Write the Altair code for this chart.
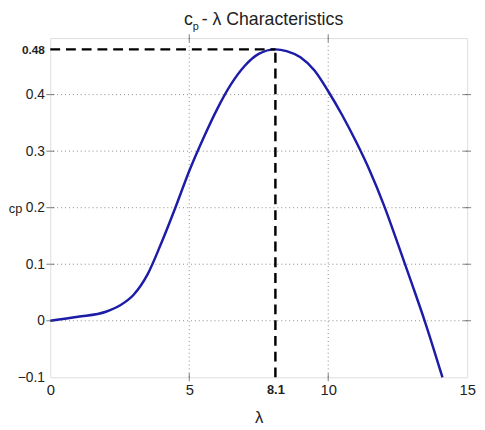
import altair as alt
import pandas as pd

# curve
lam = [0, 1.0, 2.0, 2.5, 3.0, 3.5, 4.0, 4.5, 5.0, 5.5, 6.0, 6.5, 7.0, 7.5, 8.1, 8.5, 9.0, 9.5, 10.0,
       10.5, 11.0, 11.5, 12.0, 12.5, 13.0, 13.47, 14.11]
cp = [0, 0.007, 0.016, 0.027, 0.046, 0.082, 0.138, 0.2, 0.265, 0.322, 0.374, 0.418, 0.451, 0.472, 0.48, 0.477,
      0.466, 0.443, 0.406, 0.364, 0.317, 0.265, 0.205, 0.137, 0.067, 0.0, -0.1]

x_ticks = [0, 5, 8.1, 10, 15]
y_ticks = [-0.1, 0, 0.1, 0.2, 0.3, 0.4, 0.48]
x_grid = [5, 10]
y_grid = [0, 0.1, 0.2, 0.3, 0.4]
peak_lam = 8.1
peak_cp = 0.48

FONT = "Liberation Sans"
xs = alt.Scale(domain=[0, 15], nice=False)
ys = alt.Scale(domain=[-0.1, 0.5], nice=False)

curve_df = pd.DataFrame({"lam": lam, "cp": cp})

xaxis = alt.Axis(values=x_ticks, grid=False, tickSize=0, format="~g", labelFont=FONT,
                 labelFontSize=alt.expr("datum.value == 8.1 ? 13 : 15"),
                 labelFontWeight=alt.expr("datum.value == 8.1 ? 'bold' : 'normal'"), labelColor="#222", labelPadding=6,
                 title="λ", titleFont=FONT, titleFontSize=17, titleFontWeight="normal", titleColor="#222", titlePadding=12,
                 domain=False, labelFlush=False)
yaxis = alt.Axis(values=y_ticks, grid=False, tickSize=0, format="~g", labelFont=FONT,
                 labelFontSize=alt.expr("datum.value == 0.48 ? 12 : 14"),
                 labelFontWeight=alt.expr("datum.value == 0.48 ? 'bold' : 'normal'"), labelColor="#222", labelPadding=6,
                 title="cp", titleAngle=0, titleFont=FONT, titleFontSize=13, titleFontWeight="normal",
                 titleColor="#222", titleX=-29, titleY=173, titleAlign="right", titleBaseline="middle",
                 domain=False, labelFlush=False)

vgrid = alt.Chart(pd.DataFrame({"g": x_grid})).mark_rule(color="#888", strokeDash=[1, 3], strokeWidth=1).encode(
    x=alt.X("g:Q", scale=xs, axis=xaxis))
hgrid = alt.Chart(pd.DataFrame({"g": y_grid})).mark_rule(color="#888", strokeDash=[1, 3], strokeWidth=1).encode(
    y=alt.Y("g:Q", scale=ys, axis=yaxis))

hdash = alt.Chart(pd.DataFrame({"a": [0], "b": [peak_lam], "y": [peak_cp]})).mark_rule(
    color="black", strokeDash=[10, 6], strokeWidth=2.5).encode(
    x=alt.X("a:Q", scale=xs), x2="b:Q", y=alt.Y("y:Q", scale=ys))
vdash = alt.Chart(pd.DataFrame({"x": [peak_lam], "a": [-0.1], "b": [peak_cp]})).mark_rule(
    color="black", strokeDash=[10, 6], strokeWidth=2.5).encode(
    x=alt.X("x:Q", scale=xs), y=alt.Y("a:Q", scale=ys), y2="b:Q")

line = alt.Chart(curve_df).mark_line(color="#1c1ca8", strokeWidth=2.5, interpolate="monotone").encode(
    x=alt.X("lam:Q", scale=xs), y=alt.Y("cp:Q", scale=ys))

# small inward ticks on top/bottom/left/right (MATLAB box)
tx = [5, 10]
ty = [0, 0.1, 0.2, 0.3, 0.4]
tick_top = alt.Chart(pd.DataFrame({"t": tx})).mark_tick(orient="vertical", size=8, color="#444", thickness=1).encode(
    x=alt.X("t:Q", scale=xs), y=alt.value(0))
tick_bot = alt.Chart(pd.DataFrame({"t": tx})).mark_tick(orient="vertical", size=8, color="#444", thickness=1).encode(
    x=alt.X("t:Q", scale=xs), y=alt.value(345))
tick_left = alt.Chart(pd.DataFrame({"t": ty})).mark_tick(orient="horizontal", size=8, color="#444", thickness=1).encode(
    y=alt.Y("t:Q", scale=ys), x=alt.value(0))
tick_right = alt.Chart(pd.DataFrame({"t": ty})).mark_tick(orient="horizontal", size=8, color="#444", thickness=1).encode(
    y=alt.Y("t:Q", scale=ys), x=alt.value(424))

title_c = alt.Chart(pd.DataFrame({"t": ["c"]})).mark_text(font=FONT, fontSize=18, align="left", baseline="alphabetic", color="#222").encode(
    text="t:N", x=alt.value(136), y=alt.value(-13))
title_p = alt.Chart(pd.DataFrame({"t": ["p"]})).mark_text(font=FONT, fontSize=11, align="left", baseline="alphabetic", color="#222").encode(
    text="t:N", x=alt.value(145), y=alt.value(-8))
title_rest = alt.Chart(pd.DataFrame({"t": ["- λ Characteristics"]})).mark_text(font=FONT, fontSize=18, align="left", baseline="alphabetic", color="#222").encode(
    text="t:N", x=alt.value(154), y=alt.value(-13))

chart = alt.layer(vgrid, hgrid, line, hdash, vdash, tick_top, tick_bot, tick_left, tick_right,
                  title_c, title_p, title_rest).properties(
    width=424, height=345,
    autosize=alt.AutoSizeParams(type="none"),
    padding={"left": 43, "top": 27, "right": 10, "bottom": 50},
).configure_view(stroke="#555", strokeWidth=1.2).configure(background="white")

chart.save("out.html", embed_options={"renderer": "svg", "actions": False})
